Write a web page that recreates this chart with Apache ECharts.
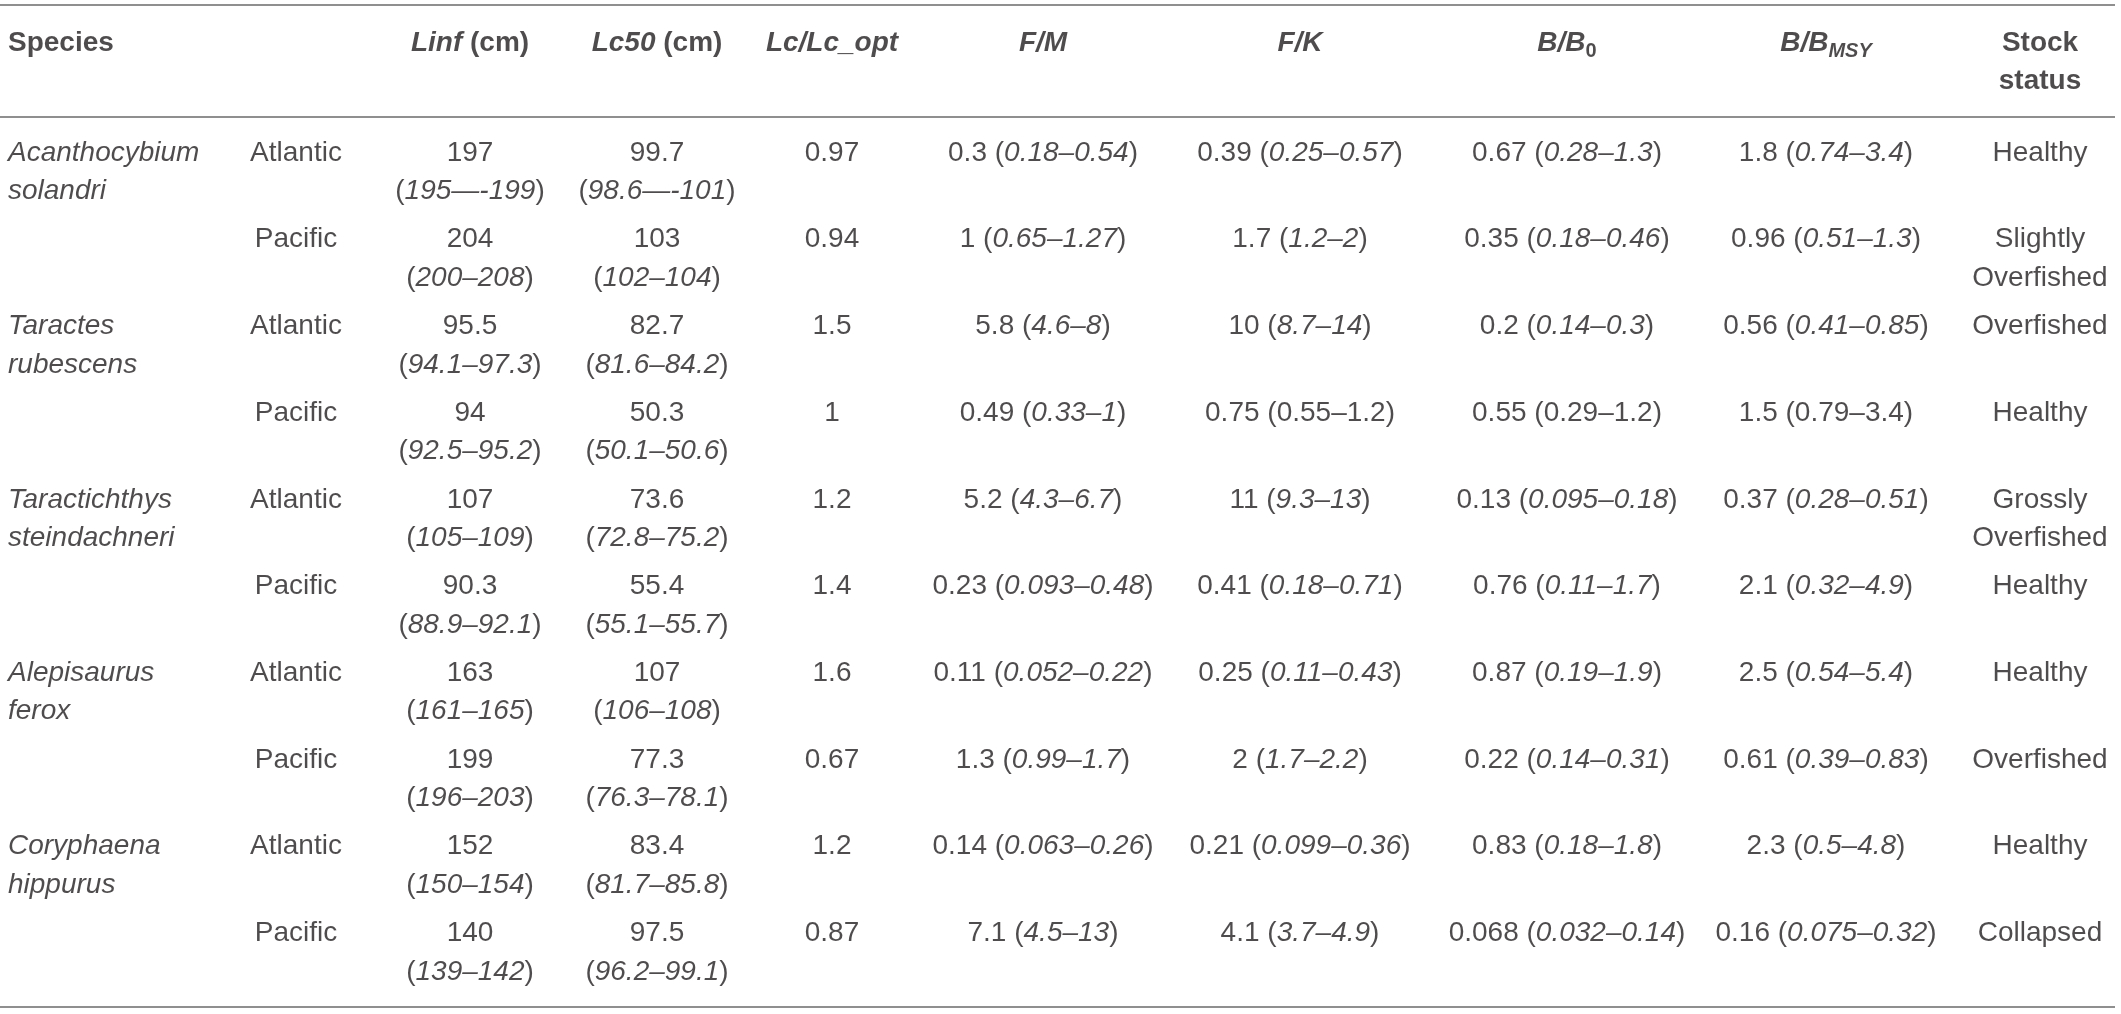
<!DOCTYPE html>
<html>
<head>
<meta charset="utf-8"/>
<title>Stock status table</title>
<script src="https://cdn.jsdelivr.net/npm/echarts@6/dist/echarts.min.js"></script>
<style>
  html, body { margin: 0; padding: 0; background: #fff; }
  #chart { width: 2121px; height: 1014px; }
</style>
</head>
<body>
<div id="chart"></div>
<script type="text/javascript">
    // table content, one array per column ('*' toggles italic, '^' toggles subscript)
    var headers = ['Species', '', '*Linf* (cm)', '*Lc50* (cm)', '*Lc/Lc_opt*', '*F/M*', '*F/K*',
                   '*B/B*^0^', '*B/B^MSY^*', 'Stock\nstatus'];
    var species = ['Acanthocybium solandri', 'Taractes rubescens', 'Taractichthys steindachneri',
                   'Alepisaurus ferox', 'Coryphaena hippurus'];
    var regions = ['Atlantic', 'Pacific'];

    var linf = ['197', '204', '95.5', '94', '107', '90.3', '163', '199', '152', '140'];
    var linfCI = ['195—-199', '200–208', '94.1–97.3', '92.5–95.2', '105–109', '88.9–92.1',
                  '161–165', '196–203', '150–154', '139–142'];
    var lc50 = ['99.7', '103', '82.7', '50.3', '73.6', '55.4', '107', '77.3', '83.4', '97.5'];
    var lc50CI = ['98.6—-101', '102–104', '81.6–84.2', '50.1–50.6', '72.8–75.2', '55.1–55.7',
                  '106–108', '76.3–78.1', '81.7–85.8', '96.2–99.1'];
    var lcRatio = ['0.97', '0.94', '1.5', '1', '1.2', '1.4', '1.6', '0.67', '1.2', '0.87'];
    var fm = ['0.3', '1', '5.8', '0.49', '5.2', '0.23', '0.11', '1.3', '0.14', '7.1'];
    var fmCI = ['0.18–0.54', '0.65–1.27', '4.6–8', '0.33–1', '4.3–6.7', '0.093–0.48',
                '0.052–0.22', '0.99–1.7', '0.063–0.26', '4.5–13'];
    var fk = ['0.39', '1.7', '10', '0.75', '11', '0.41', '0.25', '2', '0.21', '4.1'];
    var fkCI = ['0.25–0.57', '1.2–2', '8.7–14', '0.55–1.2', '9.3–13', '0.18–0.71',
                '0.11–0.43', '1.7–2.2', '0.099–0.36', '3.7–4.9'];
    var bb0 = ['0.67', '0.35', '0.2', '0.55', '0.13', '0.76', '0.87', '0.22', '0.83', '0.068'];
    var bb0CI = ['0.28–1.3', '0.18–0.46', '0.14–0.3', '0.29–1.2', '0.095–0.18', '0.11–1.7',
                 '0.19–1.9', '0.14–0.31', '0.18–1.8', '0.032–0.14'];
    var bmsy = ['1.8', '0.96', '0.56', '1.5', '0.37', '2.1', '2.5', '0.61', '2.3', '0.16'];
    var bmsyCI = ['0.74–3.4', '0.51–1.3', '0.41–0.85', '0.79–3.4', '0.28–0.51', '0.32–4.9',
                  '0.54–5.4', '0.39–0.83', '0.5–4.8', '0.075–0.32'];
    var stockStatus = ['Healthy', 'Slightly\nOverfished', 'Overfished', 'Healthy', 'Grossly\nOverfished',
                       'Healthy', 'Healthy', 'Overfished', 'Healthy', 'Collapsed'];
    // intervals printed upright instead of italic: [column, row]
    var uprightCI = [[6, 3], [7, 3], [8, 3]];

    // layout
    var colX = [8, 296, 470, 657, 832, 1043, 1300, 1567, 1826, 2040];
    var headerY = 43, rowY0 = 153, rowStep = 86.7, lineGap = 38.5;
    var rules = [5, 117, 1007];

    var font = 'Liberation Sans, Arial, Helvetica, sans-serif';
    var ink = '#231f20';

    function isUpright(col, row) {
        return uprightCI.some(function (p) { return p[0] === col && p[1] === row; });
    }

    // convert markup into echarts rich text
    function toRich(str, base) {
        var out = '', buf = '', it = false, sub = false;
        function flush() {
            if (buf) out += '{' + base + (it ? 'i' : '') + (sub ? 's' : '') + '|' + buf + '}';
            buf = '';
        }
        for (var k = 0; k < str.length; k++) {
            var c = str[k];
            if (c === '*') { flush(); it = !it; }
            else if (c === '^') { flush(); sub = !sub; }
            else buf += c;
        }
        flush();
        return out;
    }

    var points = [];
    function addCell(col, y, text, base) {
        text.split('\n').forEach(function (line, k) {
            if (!line) return;
            points.push({
                value: [colX[col], y + k * lineGap],
                label: {
                    formatter: toRich(line, base),
                    align: col === 0 ? 'left' : 'center'
                }
            });
        });
    }

    headers.forEach(function (h, c) { addCell(c, headerY, h, 'b'); });

    var valueCols = [[linf, linfCI], [lc50, lc50CI], [lcRatio, null], [fm, fmCI],
                     [fk, fkCI], [bb0, bb0CI], [bmsy, bmsyCI]];
    for (var r = 0; r < linf.length; r++) {
        var rowY = rowY0 + r * rowStep;
        if (r % 2 === 0) {
            addCell(0, rowY, '*' + species[r / 2].replace(' ', '*\n*') + '*', 'n');
        }
        addCell(1, rowY, regions[r % 2], 'n');
        valueCols.forEach(function (pair, j) {
            var col = j + 2;
            var main = pair[0][r], ci = pair[1] ? pair[1][r] : null;
            var text;
            if (!ci) text = main;
            else if (col <= 3) text = main + '\n(*' + ci + '*)';
            else if (isUpright(col, r)) text = main + ' (' + ci + ')';
            else text = main + ' (*' + ci + '*)';
            addCell(col, rowY, text, 'n');
        });
        addCell(9, rowY, stockStatus[r], 'n');
    }

    var base = { fontFamily: font, fontSize: 28, color: ink, lineHeight: 34 };
    function style(extra) { return Object.assign({}, base, extra); }
    var subStyle = { fontSize: 20, lineHeight: 34, padding: [16, 0, 0, 0] };

    var chart = echarts.init(document.getElementById('chart'), null, { renderer: 'canvas' });
    chart.setOption({
        animation: false,
        backgroundColor: '#ffffff',
        grid: { left: 0, right: 6, top: 0, bottom: 0 },
        xAxis: { type: 'value', min: 0, max: 2115, show: false },
        yAxis: { type: 'value', min: 0, max: 1014, inverse: true, show: false },
        series: [{
            type: 'scatter',
            symbolSize: 0,
            silent: true,
            data: points,
            label: {
                show: true,
                position: 'inside',
                verticalAlign: 'middle',
                color: ink,
                rich: {
                    n: style({}),
                    ni: style({ fontStyle: 'italic' }),
                    b: style({ fontWeight: 'bold' }),
                    bi: style({ fontWeight: 'bold', fontStyle: 'italic' }),
                    bs: style(Object.assign({ fontWeight: 'bold' }, subStyle)),
                    bis: style(Object.assign({ fontWeight: 'bold', fontStyle: 'italic' }, subStyle))
                }
            },
            markLine: {
                silent: true,
                symbol: 'none',
                label: { show: false },
                lineStyle: { color: '#8f8f8f', width: 2, type: 'solid' },
                data: rules.map(function (v) { return { yAxis: v }; })
            }
        }]
    });
</script>
</body>
</html>
